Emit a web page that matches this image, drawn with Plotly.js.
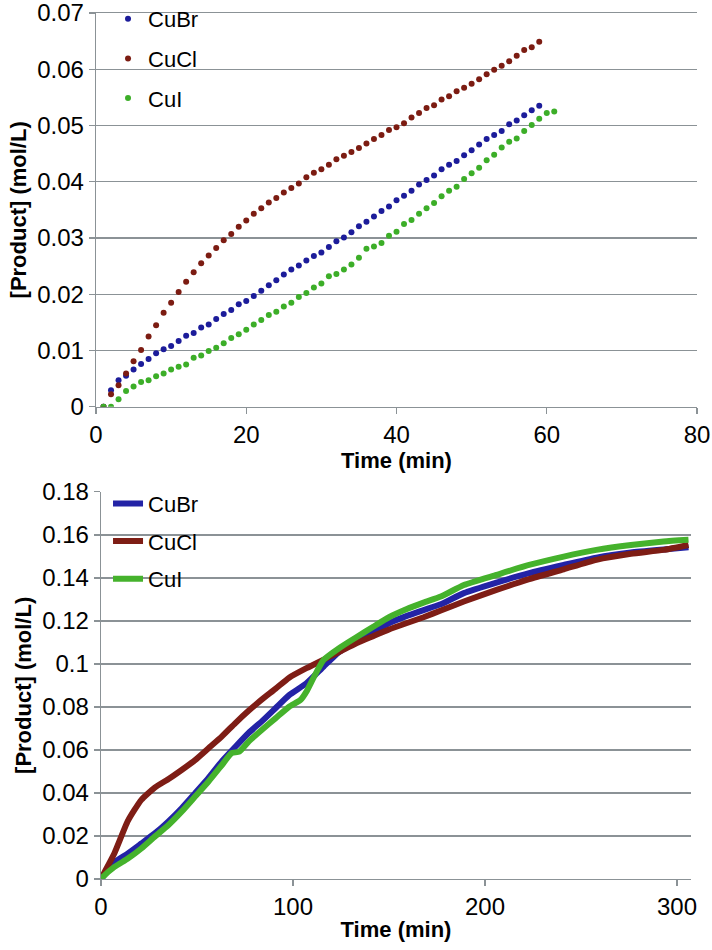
<!DOCTYPE html>
<html><head><meta charset="utf-8">
<script src="https://cdn.plot.ly/plotly-3.0.1.min.js"></script>
<style>html,body{margin:0;padding:0;background:#fff}</style>
</head><body><div id="chart" style="width:712px;height:950px"></div>
<script>
// ---- Top chart (first 60 min, dotted series) ----
const timeTop = [1,2,3,4,5,6,7,8,9,10,11,12,13,14,15,16,17,18,19,20,21,22,23,24,25,26,27,28,29,30,
  31,32,33,34,35,36,37,38,39,40,41,42,43,44,45,46,47,48,49,50,51,52,53,54,55,56,57,58,59,60,61];
const cuBrTop = [0,0.0029,0.0047,0.0055,0.0066,0.0076,0.0085,0.0095,0.0102,0.0108,0.0117,0.0126,0.0131,0.0141,0.0146,
  0.0156,0.0165,0.0172,0.0182,0.0188,0.0197,0.0206,0.0216,0.0225,0.0235,0.0244,0.0251,0.0260,0.0268,0.0274,
  0.0284,0.0294,0.0301,0.0310,0.0321,0.0329,0.0338,0.0348,0.0356,0.0367,0.0375,0.0384,0.0395,0.0403,0.0411,
  0.0422,0.0430,0.0437,0.0447,0.0456,0.0466,0.0476,0.0483,0.0490,0.0502,0.0509,0.0518,0.0527,0.0535];
const cuClTop = [0,0.0022,0.0038,0.0059,0.0081,0.0101,0.0125,0.0145,0.0167,0.0185,0.0204,0.0222,0.0239,0.0255,0.0269,
  0.0282,0.0296,0.0307,0.0320,0.0331,0.0343,0.0353,0.0363,0.0371,0.0381,0.0389,0.0397,0.0408,0.0416,0.0422,
  0.0430,0.0440,0.0446,0.0453,0.0460,0.0468,0.0476,0.0483,0.0492,0.0497,0.0504,0.0514,0.0522,0.0531,0.0536,
  0.0546,0.0552,0.0561,0.0567,0.0574,0.0582,0.0591,0.0599,0.0606,0.0614,0.0624,0.0634,0.0639,0.0649];
const cuITop = [0,0,0.0013,0.0028,0.0036,0.0044,0.0047,0.0054,0.0059,0.0066,0.0071,0.0075,0.0087,0.0091,0.0099,
  0.0105,0.0113,0.0122,0.0129,0.0137,0.0146,0.0154,0.0163,0.0169,0.0178,0.0185,0.0195,0.0202,0.0212,0.0219,
  0.0232,0.0236,0.0244,0.0253,0.0265,0.0281,0.0285,0.0291,0.0304,0.0311,0.0325,0.0332,0.0343,0.0353,0.0362,
  0.0374,0.0384,0.0391,0.0405,0.0415,0.0425,0.0438,0.0448,0.0461,0.0471,0.0477,0.0490,0.0501,0.0512,0.0522,0.0525];
const yTicksTop = [0,0.01,0.02,0.03,0.04,0.05,0.06,0.07];

// ---- Bottom chart (full run, lines) ----
const timeBottom = [0,1,7,14,21,28,35,42,49,56,63,70,77,84,91,98,107,116,124,133,142,150,159,168,177,189,206,223,241,258,276,293,306];
const cuBrBottom = [0,0.001,0.0078,0.0119,0.0165,0.0212,0.0267,0.0329,0.0399,0.047,0.0548,0.0615,0.068,0.0735,0.0795,0.0855,
  0.091,0.0988,0.1055,0.1104,0.115,0.1189,0.1222,0.125,0.1277,0.1329,0.1378,0.1422,0.146,0.1494,0.1518,0.1532,0.1542];
const cuClBottom = [0,0.0018,0.012,0.027,0.0368,0.0425,0.0464,0.0507,0.0553,0.0608,0.0663,0.0725,0.0783,0.0836,0.0885,0.0936,
  0.098,0.102,0.1055,0.1096,0.113,0.116,0.1189,0.1217,0.1248,0.129,0.1344,0.1394,0.144,0.1484,0.1512,0.153,0.1553];
const timeBottomCuI = [0,1,7,14,21,28,35,42,49,56,63,68,72,77,84,91,98,104,107,111,116,124,133,142,150,159,168,177,189,206,223,241,258,276,293,306];
const cuIBottom = [0,0.001,0.0056,0.0095,0.0142,0.0197,0.025,0.0313,0.0383,0.0453,0.053,0.0585,0.0592,0.064,0.0695,0.0748,0.0801,
  0.0833,0.0871,0.0941,0.1019,0.1073,0.1124,0.1174,0.1217,0.1254,0.1285,0.1313,0.1367,0.1414,0.146,0.1499,0.153,0.1553,0.1569,0.1577];
const yTicksBottom = [0,0.02,0.04,0.06,0.08,0.1,0.12,0.14,0.16,0.18];

const seriesNames = ['CuBr','CuCl','CuI'];
const dotColors = ['#1c1c9a','#7c1c12','#3cae28'];
const lineColors = ['#2323a6','#7e1d15','#45b22c'];

const FONT = 'Liberation Sans, Arial, sans-serif';
const GRID = '#8b9296';

const traces = [];
const topY = [cuBrTop, cuClTop, cuITop];
topY.forEach((ys, i) => {
  traces.push({
    type: 'scatter', mode: 'markers', name: seriesNames[i],
    x: timeTop.slice(0, ys.length), y: ys,
    xaxis: 'x', yaxis: 'y',
    marker: {color: dotColors[i], size: 6},
    legend: 'legend', legendgroup: 'top' + i
  });
});
const botX = [timeBottom, timeBottom, timeBottomCuI];
const botY = [cuBrBottom, cuClBottom, cuIBottom];
botY.forEach((ys, i) => {
  traces.push({
    type: 'scatter', mode: 'lines', name: seriesNames[i],
    x: botX[i], y: ys,
    xaxis: 'x2', yaxis: 'y2',
    line: {color: lineColors[i], width: 6, shape: 'spline', smoothing: 0.5},
    legend: 'legend2', legendgroup: 'bot' + i
  });
});

const tickFont = {family: FONT, size: 24, color: '#000'};
const titleFont = {family: FONT, size: 22, color: '#000', weight: 'bold'};

const axisCommon = {
  showgrid: true, gridcolor: GRID, gridwidth: 1.3,
  showline: true, linecolor: GRID, linewidth: 1.3,
  ticks: 'outside', tickcolor: GRID, ticklen: 6, tickwidth: 1.3,
  tickfont: tickFont, zeroline: false, automargin: false,
  ticklabeloverflow: 'allow'
};

const layout = {
  width: 712, height: 950,
  paper_bgcolor: '#fff', plot_bgcolor: '#fff',
  margin: {l: 96, r: 15, t: 13, b: 71, autoexpand: false},
  showlegend: true,
  xaxis: Object.assign({}, axisCommon, {
    domain: [0, 1], anchor: 'y', range: [0, 80], dtick: 20, tick0: 0, showgrid: false,
    mirror: true,
    title: {text: 'Time (min)', font: titleFont, standoff: 2}
  }),
  yaxis: Object.assign({}, axisCommon, {
    domain: [0.5454, 1], anchor: 'x', range: [0, 0.07],
    tickmode: 'array', tickvals: yTicksTop, ticktext: yTicksTop.map(String),
    title: {text: '[Product] (mol/L)', font: titleFont, standoff: 4}
  }),
  xaxis2: Object.assign({}, axisCommon, {
    domain: [0.0083, 0.990], anchor: 'y2', range: [0, 307.3], dtick: 100, tick0: 0, showgrid: false,
    title: {text: 'Time (min)', font: titleFont, standoff: 2}
  }),
  yaxis2: Object.assign({}, axisCommon, {
    domain: [0, 0.4472], anchor: 'x2', range: [0, 0.18005],
    tickmode: 'array', tickvals: yTicksBottom, ticktext: yTicksBottom.map(String),
    title: {text: '[Product] (mol/L)', font: titleFont, standoff: 4}
  }),
  legend: {
    x: 0.02, y: 1.0173, xanchor: 'left', yanchor: 'top',
    font: {family: FONT, size: 22, color: '#000'},
    bgcolor: 'rgba(0,0,0,0)', traceorder: 'grouped', tracegroupgap: 8
  },
  legend2: {
    x: 0.02, y: 0.4576, xanchor: 'left', yanchor: 'top',
    font: {family: FONT, size: 22, color: '#000'},
    bgcolor: 'rgba(0,0,0,0)', traceorder: 'grouped', tracegroupgap: 6
  }
};

Plotly.newPlot('chart', traces, layout, {staticPlot: true, displayModeBar: false});
</script></body></html>
